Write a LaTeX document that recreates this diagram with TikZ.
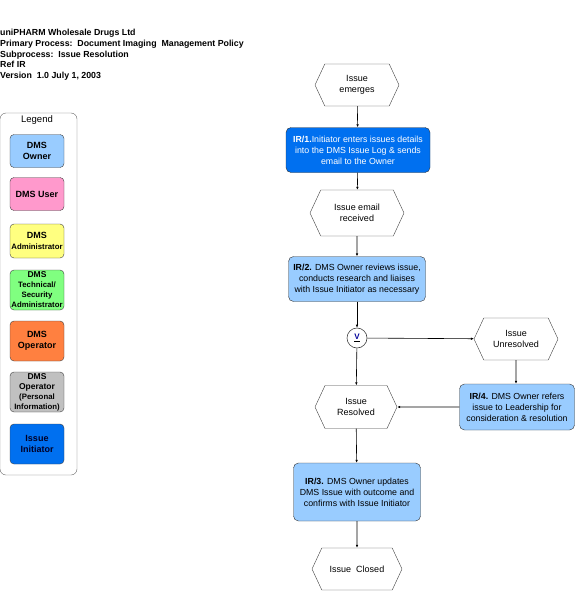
\documentclass[tikz,border=0pt]{standalone}
\usepackage{fontspec}
\setmainfont{Liberation Sans}
\usetikzlibrary{shapes.symbols,arrows.meta}
\definecolor{ownerblue}{RGB}{153,204,255}
\definecolor{userpink}{RGB}{255,153,204}
\definecolor{adminyellow}{RGB}{255,255,128}
\definecolor{techgreen}{RGB}{128,255,128}
\definecolor{operorange}{RGB}{255,128,64}
\definecolor{persgray}{RGB}{192,192,192}
\definecolor{initblue}{RGB}{0,112,240}
\newcommand\legsmall[1]{{\fontsize{7.8}{10}\selectfont #1}}
\tikzset{
  event/.style={draw=black!75,signal,signal to=west and east,signal pointer angle=130,
    minimum width=84pt,minimum height=42pt,inner sep=1pt,align=center,
    font=\fontsize{9}{11}\selectfont},
  task/.style={draw=black!80,rounded corners=5pt,fill=ownerblue,inner sep=1pt,
    align=center,font=\fontsize{8.8}{11}\selectfont},
  legbox/.style={draw=black!75,rounded corners=4pt,minimum width=54pt,minimum height=33pt,
    inner sep=0pt,align=center,font=\fontsize{9}{10.5}\selectfont\bfseries},
  flow/.style={-{Latex[length=3pt,width=2.6pt]},line width=0.6pt}
}
\begin{document}
\begin{tikzpicture}[x=1pt,y=-1pt]
  \useasboundingbox(0,0)rectangle(576,599);
  % header
  \node[anchor=north west,inner sep=0pt,align=left,font=\fontsize{8.8}{10.8}\selectfont\bfseries]
    (head)at(0,29){uniPHARM Wholesale Drugs Ltd\\Primary Process:\ \ Document Imaging\ \ Management Policy\\
    Subprocess:\ \ Issue Resolution\\Ref IR\\Version\ \ 1.0 July 1, 2003};
  % legend
  \draw[black!60,rounded corners=6pt](0,113)rectangle(77,475);
  \node[font=\fontsize{9.5}{10}\selectfont](legend)at(37,120){Legend};
  \node[legbox,fill=ownerblue](lowner)at(37,151){DMS\\Owner};
  \node[legbox,fill=userpink](luser)at(37,194){DMS User};
  \node[legbox,fill=adminyellow,minimum height=34pt](ladmin)at(37,241){DMS\\[1pt]\legsmall{Administrator}};
  \node[legbox,fill=techgreen,minimum height=40pt,font=\fontsize{8.5}{10}\selectfont\bfseries](ltech)at(37,290)
    {DMS\\\legsmall{Technical/}\\\legsmall{Security}\\\legsmall{Administrator}};
  \node[legbox,fill=operorange,minimum height=40pt](loper)at(37,341){DMS\\Operator};
  \node[legbox,fill=persgray,minimum height=40pt,font=\fontsize{8.5}{10}\selectfont\bfseries](lpers)at(37,392)
    {DMS\\Operator\\\legsmall{(Personal}\\\legsmall{Information)}};
  \node[legbox,fill=initblue,minimum height=40pt,text=black!85!blue](linit)at(37,444){Issue\\Initiator};
  % flow
  \node[event](emerges)at(357,85){Issue\\emerges};
  \node[task,fill=initblue,text=white,minimum width=144pt,minimum height=45pt](ir1)at(358,150)
    {\textbf{IR/1.}Initiator enters issues details\\into the DMS Issue Log \& sends\\email to the Owner};
  \node[event,minimum width=94pt,minimum height=46pt](received)at(357,213){Issue email\\received};
  \node[task,minimum width=137pt,minimum height=45pt](ir2)at(357,279)
    {\textbf{IR/2.} DMS Owner reviews issue,\\conducts research and liaises\\with Issue Initiator as necessary};
  \node[draw=black!75,circle,minimum size=20pt,inner sep=0pt,line width=0.6pt,
    font=\fontsize{8}{9}\selectfont\bfseries](xor)at(357,338){\underline{\textcolor{blue!60!black}{V}}};
  \node[event](unresolved)at(516,339){Issue\\Unresolved};
  \node[task,minimum width=115pt,minimum height=46pt](ir4)at(517,407)
    {\textbf{IR/4.} DMS Owner refers\\issue to Leadership for\\consideration \& resolution};
  \node[event,minimum width=82pt,minimum height=43pt](resolved)at(356,407){Issue\\Resolved};
  \node[task,minimum width=127pt,minimum height=58pt](ir3)at(357,492)
    {\textbf{IR/3.} DMS Owner updates\\DMS Issue with outcome and\\confirms with Issue Initiator};
  \node[event,minimum width=90pt](closed)at(357,569){Issue\ \ Closed};
  \draw[flow](emerges)--(ir1);
  \draw[flow](ir1)--(received);
  \draw[flow](received)--(ir2);
  \draw[flow](ir2)--(xor);
  \draw[flow](xor)--(unresolved);
  \draw[flow](xor)--(resolved);
  \draw[flow](unresolved)--(unresolved|-ir4.north);
  \draw[flow](ir4)--(resolved);
  \draw[flow](resolved)--(ir3);
  \draw[flow](ir3)--(closed);
\end{tikzpicture}
\end{document}
